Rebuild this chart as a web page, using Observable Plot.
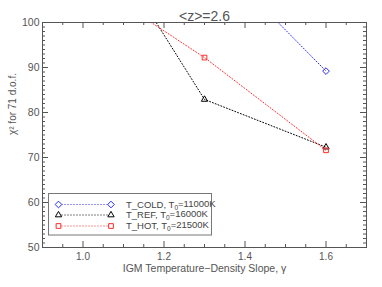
<!DOCTYPE html>
<html><head>
<meta charset="utf-8">
<script src="https://cdn.jsdelivr.net/npm/d3@7"></script>
<script src="https://cdn.jsdelivr.net/npm/@observablehq/plot@0.6"></script>
<style>
body{margin:0;background:#fff}
svg{font-family:"Liberation Sans",Arial,sans-serif}
</style>
</head><body><div id="chart"></div>
<script>
// Data
const gamma = [1.0, 1.3, 1.6];
const coldGamma = [1.3, 1.6];
const coldChi2 = [116.6, 89.2];
const refChi2 = [125.9, 82.9, 72.3];
const hotChi2 = [110.0, 92.2, 71.6];
const seriesNames = ["T_COLD", "T_REF", "T_HOT"];
const seriesT0 = ["11000K", "16000K", "21500K"];
const seriesColors = ["#2a2aff", "#000000", "#ff2a2a"];
const seriesSymbols = ["diamond2", "triangle2", "square2"];
const xMajor = [1.0, 1.2, 1.4, 1.6];
const yMajor = [50, 60, 70, 80, 90, 100];
const xMinor = d3.range(19, 34).map(i => i * 0.05).filter(v => !xMajor.some(m => Math.abs(m - v) < 1e-6));
const yMinor = d3.range(51, 100).filter(v => v % 10 !== 0);
const titleText = "<z>=2.6";
const xLabel = "IGM Temperature\u2212Density Slope, \u03b3";
const yLabel = "\u03c7\u00b2 for 71 d.o.f.";

const W = 382, H = 287;
const mL = 42, mR = 16, mT = 22, mB = 40;
const fw = W - mL - mR, fh = H - mT - mB;
const axisColor = "#555";

const rows = [];
coldGamma.forEach((g, i) => rows.push({s: 0, x: g, y: coldChi2[i]}));
gamma.forEach((g, i) => rows.push({s: 1, x: g, y: refChi2[i]}));
gamma.forEach((g, i) => rows.push({s: 2, x: g, y: hotChi2[i]}));

const marks = [];
[0, 1, 2].forEach(s => {
  const d = rows.filter(r => r.s === s);
  marks.push(Plot.line(d, {x: "x", y: "y", stroke: seriesColors[s], strokeWidth: 1, strokeDasharray: "1,2", clip: true}));
  marks.push(Plot.dot(d, {x: "x", y: "y", symbol: () => seriesSymbols[s], stroke: seriesColors[s], fill: "none", r: 3, strokeWidth: 1, clip: true}));
});

const tk = (vx, vy, len) => [
  Plot.tickX(vx, {x: d => d, insetBottom: fh - len, stroke: axisColor}),
  Plot.tickX(vx, {x: d => d, insetTop: fh - len, stroke: axisColor}),
  Plot.tickY(vy, {y: d => d, insetRight: fw - len, stroke: axisColor}),
  Plot.tickY(vy, {y: d => d, insetLeft: fw - len, stroke: axisColor})
];

const svg = Plot.plot({
  width: W, height: H,
  marginLeft: mL, marginRight: mR, marginTop: mT, marginBottom: mB,
  style: {fontFamily: "Liberation Sans, Arial, sans-serif", color: axisColor, background: "#fff"},
  x: {domain: [0.9, 1.7]},
  y: {domain: [50, 100]},
  marks: [
    ...marks,
    ...tk(xMinor, yMinor, 3), ...tk(xMajor, yMajor, 6),
    Plot.frame({stroke: axisColor}),
    Plot.axisX(xMajor, {tickSize: 0, tickPadding: 5, tickFormat: d3.format(".1f"), fontSize: 10, fill: axisColor, label: null}),
    Plot.axisY(yMajor, {tickSize: 0, tickPadding: 3, fontSize: 10.5, fill: axisColor, label: null}),
    Plot.text([titleText], {frameAnchor: "top", dy: -11, text: d => d, fontSize: 14, fill: axisColor}),
    Plot.text([xLabel], {frameAnchor: "bottom", dy: 24, text: d => d, fontSize: 10.5, fill: axisColor}),
    Plot.text([yLabel], {frameAnchor: "left", dx: -30, rotate: -90, text: d => d, fontSize: 10, fill: axisColor})
  ]
});

// In-plot legend
const g = d3.select(svg).append("g").attr("text-anchor", "start");
const lx = 48.5, ly = 193.5, lw = 163, lh = 41.5;
g.append("rect").attr("x", lx).attr("y", ly).attr("width", lw).attr("height", lh)
  .attr("fill", "#fff").attr("stroke", "#777").attr("stroke-width", 1);
const symMap = {diamond2: d3.symbolDiamond2, triangle2: d3.symbolTriangle2, square2: d3.symbolSquare2};
const rowY = [204.5, 215, 226];
seriesNames.forEach((name, i) => {
  const y = rowY[i];
  g.append("line").attr("x1", 58.5).attr("x2", 111).attr("y1", y).attr("y2", y)
    .attr("stroke", seriesColors[i]).attr("stroke-dasharray", "1,2");
  [58.5, 111].forEach(x => {
    g.append("path").attr("d", d3.symbol(symMap[seriesSymbols[i]], Math.PI * 9)())
      .attr("transform", `translate(${x},${y})`)
      .attr("fill", "#fff").attr("stroke", seriesColors[i]);
  });
  const t = g.append("text").attr("x", 126).attr("y", y).attr("dy", "0.35em")
    .attr("text-anchor", "start").attr("font-size", 9.5).attr("fill", "#444");
  t.append("tspan").text(name + ", T");
  t.append("tspan").attr("font-size", 6.5).attr("dy", "0.3em").text("0");
  t.append("tspan").attr("dy", "-0.3em").text("=" + seriesT0[i]);
});

document.getElementById("chart").appendChild(svg);
</script>
</body></html>
